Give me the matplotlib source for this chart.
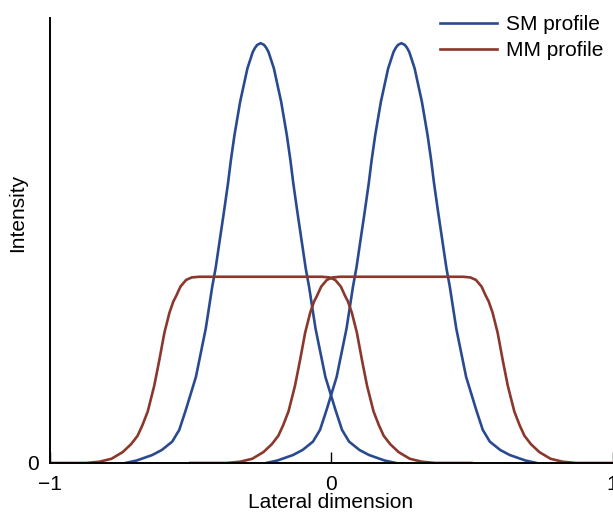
import numpy as np
import matplotlib
matplotlib.use("Agg")
import matplotlib.pyplot as plt

plt.rcParams['font.family'] = ['Liberation Sans', 'DejaVu Sans']

# peak centres of the two profiles
centers = [-0.25, 0.25]

# SM profile (offset from centre, intensity)
sm_dx = [-0.48, -0.44, -0.385, -0.351, -0.314, -0.289, -0.266, -0.23, -0.195,
         -0.172, -0.16, -0.13, -0.116, -0.106, -0.093, -0.073, -0.047, -0.028, -0.02,
         -0.012, 0.0,
         0.012, 0.02, 0.028, 0.047, 0.073, 0.093, 0.106, 0.116, 0.13, 0.16, 0.172,
         0.195, 0.23, 0.266, 0.289, 0.314, 0.351, 0.385, 0.44, 0.48]
sm_y = [0.0, 0.006, 0.019, 0.031, 0.051, 0.079, 0.126, 0.205, 0.32,
        0.42, 0.464, 0.60, 0.666, 0.72, 0.781, 0.86, 0.94, 0.979, 0.989,
        0.996, 1.0,
        0.996, 0.989, 0.979, 0.94, 0.86, 0.781, 0.72, 0.666, 0.60, 0.464, 0.42,
        0.32, 0.205, 0.126, 0.079, 0.051, 0.031, 0.019, 0.006, 0.0]

# MM profile (offset from centre, intensity)
mm_dx = [-0.75, -0.62, -0.573, -0.53, -0.49, -0.46, -0.437, -0.42, -0.401, -0.378,
         -0.36, -0.342, -0.324, -0.31, -0.30, -0.285, -0.265, -0.245, -0.218,
         0.218, 0.245, 0.265, 0.285, 0.30, 0.31, 0.324, 0.342, 0.36,
         0.378, 0.401, 0.42, 0.437, 0.46, 0.49, 0.53, 0.573, 0.62, 0.75]
mm_y = [0.0, 0.0, 0.003, 0.01, 0.026, 0.045, 0.065, 0.09, 0.123, 0.184,
        0.245, 0.31, 0.358, 0.385, 0.398, 0.42, 0.436, 0.442, 0.4436,
        0.4436, 0.442, 0.436, 0.42, 0.398, 0.385, 0.358, 0.31, 0.245,
        0.184, 0.123, 0.09, 0.065, 0.045, 0.026, 0.01, 0.003, 0.0, 0.0]

blue = '#2a4a90'
red = '#8a372c'

fig = plt.figure(figsize=(6.13, 5.13), dpi=100)
ax = fig.add_axes([0.0808, 0.0975, 0.9184, 0.8674])

for i, c in enumerate(centers):
    ax.plot(c + np.array(sm_dx), sm_y, color=blue, lw=1.9,
            label='SM profile' if i == 0 else None)
for i, c in enumerate(centers):
    ax.plot(c + np.array(mm_dx), mm_y, color=red, lw=1.9,
            label='MM profile' if i == 0 else None)

ax.set_xlim(-1, 1)
ax.set_ylim(0, 1.06)
ax.set_xticks([-1, 0, 1])
ax.set_yticks([0])
ax.spines['top'].set_visible(False)
ax.spines['right'].set_visible(False)
ax.spines['left'].set_linewidth(1.4)
ax.spines['bottom'].set_linewidth(1.4)
ax.tick_params(axis='x', direction='in', length=8, width=1, labelsize=15, pad=9)
ax.tick_params(axis='y', length=0, labelsize=15, pad=8)
ax.set_xlabel('Lateral dimension', fontsize=15, labelpad=-1)
ax.set_ylabel('Intensity', fontsize=15)
ax.yaxis.set_label_coords(-0.040, 0.562)

ax.legend(loc='upper right', bbox_to_anchor=(1.017, 1.048), frameon=False,
          fontsize=15, handlelength=2.7, handletextpad=0.45, labelspacing=0.32)

fig.savefig('out.png', dpi=100)
